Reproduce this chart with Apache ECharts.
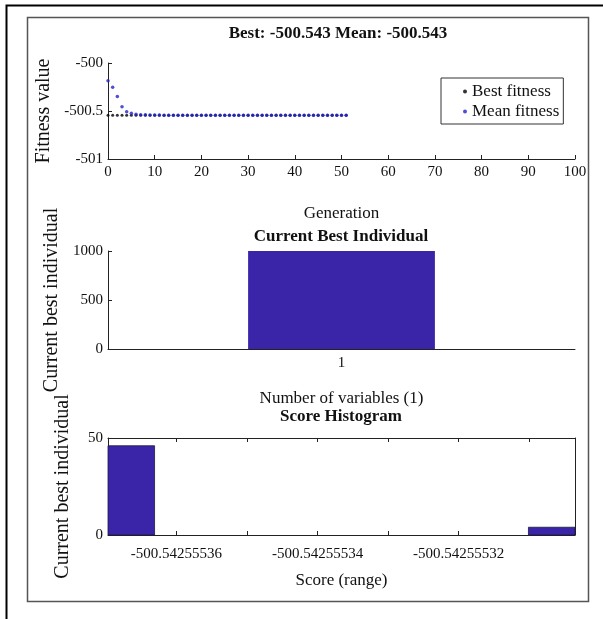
<!DOCTYPE html>
<html><head><meta charset="utf-8">
<script src="https://cdn.jsdelivr.net/npm/echarts@6/dist/echarts.min.js"></script>
<style>html,body{margin:0;padding:0;background:#fff}#c{width:603px;height:619px}</style>
</head><body><div id="c"></div>
<script>
// ---- data ----
const generations = [0,1,2,3,4,5,6,7,8,9,10,11,12,13,14,15,16,17,18,19,20,21,22,23,24,25,26,27,28,29,30,31,32,33,34,35,36,37,38,39,40,41,42,43,44,45,46,47,48,49,50,51];
const bestFitness = [-500.543,-500.543,-500.543,-500.543,-500.543,-500.543,-500.543,-500.543,-500.543,-500.543,-500.543,-500.543,-500.543,-500.543,-500.543,-500.543,-500.543,-500.543,-500.543,-500.543,-500.543,-500.543,-500.543,-500.543,-500.543,-500.543,-500.543,-500.543,-500.543,-500.543,-500.543,-500.543,-500.543,-500.543,-500.543,-500.543,-500.543,-500.543,-500.543,-500.543,-500.543,-500.543,-500.543,-500.543,-500.543,-500.543,-500.543,-500.543,-500.543,-500.543,-500.543,-500.543];
const meanFitness = [-500.184,-500.253,-500.350,-500.455,-500.507,-500.524,-500.534,-500.538,-500.540,-500.541,-500.542,-500.542,-500.543,-500.543,-500.543,-500.543,-500.543,-500.543,-500.543,-500.543,-500.543,-500.543,-500.543,-500.543,-500.543,-500.543,-500.543,-500.543,-500.543,-500.543,-500.543,-500.543,-500.543,-500.543,-500.543,-500.543,-500.543,-500.543,-500.543,-500.543,-500.543,-500.543,-500.543,-500.543,-500.543,-500.543,-500.543,-500.543,-500.543,-500.543,-500.543,-500.543];
const individualCategories = ['1'];
const individualValues = [1000];
// score histogram: bin edges in units of 1e-8 relative to -500.5425553
const scoreBinEdges = [-6.97,-6.31,-5.65,-4.98,-4.32,-3.66,-3.00,-2.34,-1.68,-1.01,-0.35];
const scoreCounts = [46,0,0,0,0,0,0,0,0,4];
const scoreTickValues = [-6,-4,-2];
const scoreTickLabels = ['-500.54255536','-500.54255534','-500.54255532'];

// ---- styling ----
const FONT = 'Liberation Serif';
const AX = '#222';
const BAR = '#3a24a8';
const L = 108, R = 28;

function axisBase(extra) {
  return Object.assign({
    axisLine: {show: true, onZero: false, lineStyle: {color: AX, width: 1}},
    axisTick: {show: true, inside: true, length: 4, lineStyle: {color: AX}},
    axisLabel: {color: '#111', fontFamily: FONT, fontSize: 15, margin: 5},
    splitLine: {show: false},
    nameTextStyle: {color: '#111', fontFamily: FONT, fontSize: 17},
    nameLocation: 'middle'
  }, extra);
}

const histData = scoreCounts.map((c, i) => [scoreBinEdges[i], scoreBinEdges[i + 1], c]);

const option = {
  animation: false,
  backgroundColor: '#fff',
  graphic: [
    {type: 'rect', shape: {x: 6.5, y: 5.5, width: 640, height: 660}, style: {fill: 'none', stroke: '#000', lineWidth: 2}, silent: true},
    {type: 'rect', shape: {x: 27.5, y: 17.5, width: 561, height: 584}, style: {fill: 'none', stroke: '#555', lineWidth: 1.5}, silent: true}
  ],
  title: [
    {text: 'Best: -500.543 Mean: -500.543', left: 338, top: 25, textAlign: 'center', padding: 0,
     textStyle: {fontFamily: FONT, fontSize: 17, fontWeight: 'bold', color: '#111'}},
    {text: 'Current Best Individual', left: 341, top: 228, textAlign: 'center', padding: 0,
     textStyle: {fontFamily: FONT, fontSize: 17, fontWeight: 'bold', color: '#111'}},
    {text: 'Score Histogram', left: 341, top: 408, textAlign: 'center', padding: 0,
     textStyle: {fontFamily: FONT, fontSize: 17, fontWeight: 'bold', color: '#111'}}
  ],
  legend: {
    data: ['Best fitness', 'Mean fitness'],
    orient: 'vertical', left: 441, top: 78,
    padding: [5, 4, 4, 22], itemGap: 3, itemWidth: 4, itemHeight: 4, icon: 'circle',
    borderColor: '#333', borderWidth: 1, backgroundColor: '#fff',
    textStyle: {fontFamily: FONT, fontSize: 17, color: '#111'}
  },
  grid: [
    {left: L, right: R, top: 63, height: 96},
    {left: L, right: R, top: 251, height: 98},
    {left: L, right: R, top: 438, height: 97}
  ],
  xAxis: [
    axisBase({gridIndex: 0, type: 'value', min: 0, max: 100, interval: 10, name: 'Generation', nameGap: 46,
      axisLabel: {color: '#111', fontFamily: FONT, fontSize: 15, margin: 6}}),
    axisBase({gridIndex: 1, type: 'category', data: individualCategories, name: 'Number of variables (1)', nameGap: 41,
      axisLabel: {color: '#111', fontFamily: FONT, fontSize: 15, margin: 7},
      axisTick: {show: true, inside: true, length: 4, alignWithLabel: true, lineStyle: {color: AX}}}),
    axisBase({gridIndex: 2, type: 'value', min: scoreBinEdges[0], max: scoreBinEdges[scoreBinEdges.length - 1],
      name: 'Score (range)', nameGap: 37,
      axisLabel: {color: '#111', fontFamily: FONT, fontSize: 15, margin: 12,
        formatter: v => { const i = scoreTickValues.findIndex(t => Math.abs(t - v) < 1e-6); return i >= 0 ? scoreTickLabels[i] : ''; }}}),
    axisBase({gridIndex: 2, type: 'value', position: 'top', min: scoreBinEdges[0], max: scoreBinEdges[scoreBinEdges.length - 1],
      axisLabel: {show: false}, name: ''})
  ],
  yAxis: [
    axisBase({gridIndex: 0, type: 'value', min: -501, max: -500, interval: 0.5, name: 'Fitness value', nameGap: 45,
      nameTextStyle: {color: '#111', fontFamily: FONT, fontSize: 20}}),
    axisBase({gridIndex: 1, type: 'value', min: 0, max: 1000, interval: 500, name: 'Current best individual', nameGap: 37,
      axisLabel: {color: '#111', fontFamily: FONT, fontSize: 15, margin: 5, formatter: v => String(v)},
      nameTextStyle: {color: '#111', fontFamily: FONT, fontSize: 20}}),
    axisBase({gridIndex: 2, type: 'value', min: 0, max: 50, interval: 50, name: 'Current best individual', nameGap: 35,
      nameTextStyle: {color: '#111', fontFamily: FONT, fontSize: 20}}),
    axisBase({gridIndex: 2, type: 'value', position: 'right', min: 0, max: 50, interval: 50, axisLabel: {show: false}, name: ''})
  ],
  series: [
    {name: 'Best fitness', type: 'scatter', xAxisIndex: 0, yAxisIndex: 0, symbol: 'circle', symbolSize: 3,
     itemStyle: {color: '#000'}, data: generations.map((g, i) => [g, bestFitness[i]])},
    {name: 'Mean fitness', type: 'scatter', xAxisIndex: 0, yAxisIndex: 0, symbol: 'circle', symbolSize: 3.5,
     itemStyle: {color: '#2222cc'}, data: generations.map((g, i) => [g, meanFitness[i]])},
    {name: 'Individual', type: 'bar', xAxisIndex: 1, yAxisIndex: 1, barWidth: '40%',
     itemStyle: {color: BAR}, data: individualValues},
    {name: 'Score', type: 'custom', xAxisIndex: 2, yAxisIndex: 2, encode: {x: [0, 1], y: 2},
     data: histData,
     renderItem: (params, api) => {
       const c = api.value(2);
       if (!c) return null;
       const p0 = api.coord([api.value(0), 0]);
       const p1 = api.coord([api.value(1), c]);
       return {type: 'rect', shape: {x: p0[0], y: p1[1], width: p1[0] - p0[0], height: p0[1] - p1[1]},
               style: {fill: BAR, stroke: '#1a1a40', lineWidth: 0.8}};
     }}
  ]
};
const chart = echarts.init(document.getElementById('c'), null, {renderer: 'canvas'});
chart.setOption(option);
</script></body></html>
